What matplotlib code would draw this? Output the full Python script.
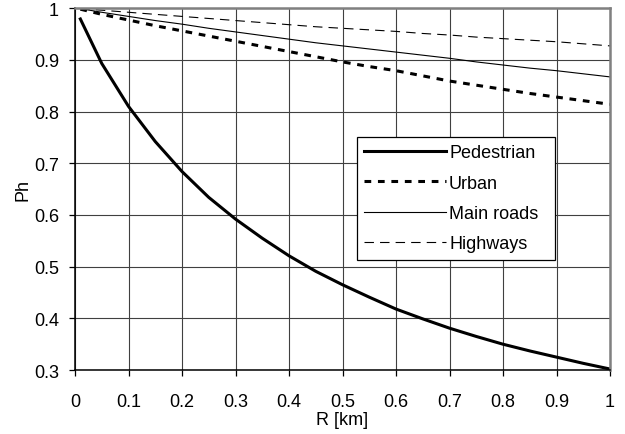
import matplotlib

matplotlib.use("Agg")
import matplotlib.pyplot as plt

plt.rcParams["font.family"] = ["Liberation Sans", "DejaVu Sans"]

R_KM = [0.01, 0.05, 0.1, 0.15, 0.2, 0.25, 0.3, 0.35, 0.4, 0.45, 0.5, 0.55, 0.6, 0.65, 0.7, 0.75, 0.8, 0.85, 0.9, 0.95, 1.0]
PEDESTRIAN = [0.979, 0.893, 0.810, 0.742, 0.684, 0.634, 0.592, 0.555, 0.521, 0.491, 0.465, 0.441, 0.418, 0.399, 0.381, 0.365, 0.350, 0.337, 0.325, 0.313, 0.302]
URBAN = [0.998, 0.988, 0.977, 0.966, 0.956, 0.946, 0.936, 0.926, 0.916, 0.906, 0.896, 0.887, 0.879, 0.869, 0.859, 0.851, 0.843, 0.835, 0.828, 0.821, 0.814]
MAIN_ROADS = [0.999, 0.992, 0.984, 0.976, 0.969, 0.961, 0.954, 0.947, 0.940, 0.933, 0.927, 0.921, 0.915, 0.909, 0.903, 0.896, 0.890, 0.884, 0.879, 0.873, 0.867]
HIGHWAYS = [0.999, 0.996, 0.992, 0.988, 0.984, 0.980, 0.976, 0.972, 0.968, 0.964, 0.961, 0.958, 0.955, 0.951, 0.948, 0.944, 0.941, 0.938, 0.935, 0.931, 0.927]

X_TICKS = [0, 0.1, 0.2, 0.3, 0.4, 0.5, 0.6, 0.7, 0.8, 0.9, 1]
X_LABELS = ["0", "0.1", "0.2", "0.3", "0.4", "0.5", "0.6", "0.7", "0.8", "0.9", "1"]
Y_TICKS = [0.3, 0.4, 0.5, 0.6, 0.7, 0.8, 0.9, 1]
Y_LABELS = ["0.3", "0.4", "0.5", "0.6", "0.7", "0.8", "0.9", "1"]

figure = plt.figure(figsize=(6.25, 4.35), dpi=100)
axis = figure.add_axes([0.12, 0.147, 0.856, 0.832])

axis.plot(R_KM, PEDESTRIAN, color="black", linewidth=2.2, label="Pedestrian")
axis.plot(R_KM, URBAN, color="black", linewidth=2.2, linestyle=(0, (2.2, 2.2)), label="Urban")
axis.plot(R_KM, MAIN_ROADS, color="black", linewidth=0.8, label="Main roads")
axis.plot(R_KM, HIGHWAYS, color="black", linewidth=0.8, linestyle=(0, (8.5, 5.5)), label="Highways")

axis.set_xlim(0, 1)
axis.set_ylim(0.3, 1)
axis.set_xticks(X_TICKS, X_LABELS)
axis.set_yticks(Y_TICKS, Y_LABELS)
axis.tick_params(direction="out", length=4.5, width=0.9, labelsize=13, colors="black")
axis.tick_params(axis="y", pad=7)
axis.tick_params(axis="x", pad=12)
axis.grid(True, color="#404040", linewidth=0.8)
axis.set_axisbelow(True)

for side in ("left", "bottom"):
    axis.spines[side].set_color("black")
    axis.spines[side].set_linewidth(1.1)
for side in ("top", "right"):
    axis.spines[side].set_color("#808080")
    axis.spines[side].set_linewidth(1.8)

axis.set_xlabel("R [km]", fontsize=13, labelpad=1)
axis.set_ylabel("Ph", fontsize=13, labelpad=2)

legend = axis.legend(
    loc="upper left",
    bbox_to_anchor=(0.527, 0.304, 0.37, 0.34),
    mode="expand",
    fontsize=13,
    frameon=True,
    fancybox=False,
    handlelength=4.55,
    handletextpad=0.15,
    borderaxespad=0,
    borderpad=0.4,
    labelspacing=0.74,
)
legend.get_frame().set_edgecolor("black")
legend.get_frame().set_linewidth(0.9)
legend.get_frame().set_alpha(1)

figure.savefig("out.png", dpi=100, facecolor="white")
